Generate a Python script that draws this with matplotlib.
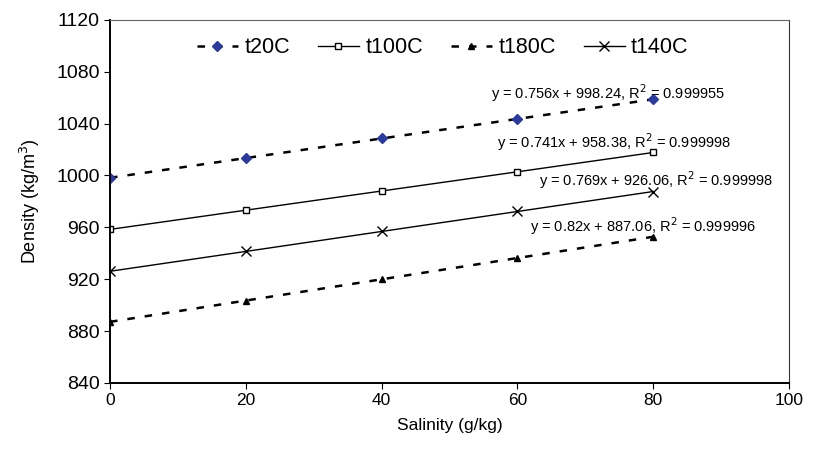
import matplotlib.pyplot as plt

plt.rcParams['font.family'] = ['Liberation Sans', 'DejaVu Sans']

salinity = [0, 20, 40, 60, 80]
t20c = [998.2, 1013.4, 1028.5, 1043.6, 1058.7]
t100c = [958.4, 973.2, 988.0, 1002.8, 1017.7]
t180c = [887.1, 903.5, 919.9, 936.3, 952.7]
t140c = [926.1, 941.4, 956.8, 972.2, 987.6]

fit_labels = [
    "y = 0.756x + 998.24, R$^2$ = 0.999955",
    "y = 0.741x + 958.38, R$^2$ = 0.999998",
    "y = 0.769x + 926.06, R$^2$ = 0.999998",
    "y = 0.82x + 887.06, R$^2$ = 0.999996",
]
fit_pos = [(56.1, 1063.5), (57.0, 1026.0), (63.2, 996.5), (61.9, 961.0)]

fig = plt.figure(figsize=(8.34, 4.51), dpi=100)
ax = fig.add_axes([0.132, 0.151, 0.814, 0.805])

ax.plot(salinity, t20c, linestyle=(0, (3, 4)), color='black', lw=1.8,
        marker='D', markersize=5.5, markerfacecolor='#2b3a9b', markeredgecolor='#2b3a9b', label='t20C')
ax.plot(salinity, t100c, linestyle='-', color='black', lw=1.0,
        marker='s', markersize=5, markerfacecolor='white', markeredgecolor='black', label='t100C')
ax.plot(salinity, t180c, linestyle=(0, (3, 4)), color='black', lw=1.8,
        marker='^', markersize=5, markerfacecolor='black', markeredgecolor='black', label='t180C')
ax.plot(salinity, t140c, linestyle='-', color='black', lw=1.0,
        marker='x', markersize=7, markeredgecolor='black', label='t140C')

for lab, (xx, yy) in zip(fit_labels, fit_pos):
    ax.text(xx, yy, lab, fontsize=10.5, va='center', ha='left')

ax.set_xlim(0, 100)
ax.set_ylim(840, 1120)
ax.set_xticks(range(0, 101, 20))
ax.set_yticks(range(840, 1121, 40))
ax.tick_params(axis='y', labelsize=14, direction='out', length=4)
ax.tick_params(axis='x', labelsize=12.5, direction='out', length=4)
ax.set_xlabel('Salinity (g/kg)', fontsize=12.5, labelpad=7)
ax.set_ylabel('Density (kg/m$^3$)', fontsize=13, labelpad=10)
for s in ['left', 'bottom']:
    ax.spines[s].set_linewidth(1.4)
ax.spines['top'].set_color('#666666')
ax.spines['right'].set_color('#333333')

ax.legend(loc='upper center', ncol=4, frameon=False, fontsize=15.5,
          bbox_to_anchor=(0.49, 1.005), handlelength=1.9, columnspacing=1.3,
          handletextpad=0.3)

fig.savefig('out.png', dpi=100)
